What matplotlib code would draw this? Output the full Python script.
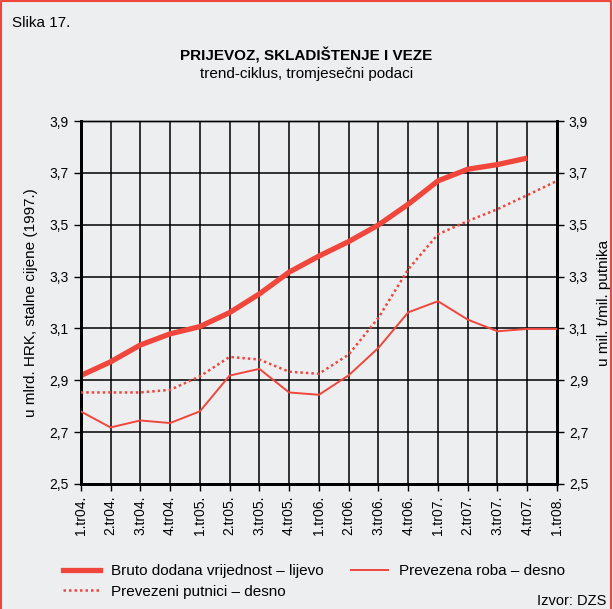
import numpy as np
import matplotlib
matplotlib.use('Agg')
import matplotlib.pyplot as plt
from matplotlib.lines import Line2D

plt.rcParams['font.family'] = ['Liberation Sans', 'DejaVu Sans']

quarters = ['1.tr04.', '2.tr04.', '3.tr04.', '4.tr04.', '1.tr05.', '2.tr05.', '3.tr05.', '4.tr05.',
            '1.tr06.', '2.tr06.', '3.tr06.', '4.tr06.', '1.tr07.', '2.tr07.', '3.tr07.', '4.tr07.', '1.tr08.']
bruto = [2.918, 2.971, 3.036, 3.079, 3.107, 3.161, 3.233, 3.317, 3.379, 3.435, 3.499, 3.579,
         3.669, 3.714, 3.732, 3.757]
putnici = [2.853, 2.853, 2.853, 2.863, 2.915, 2.990, 2.980, 2.933, 2.925, 2.999, 3.141, 3.328,
           3.463, 3.514, 3.560, 3.614, 3.669]
roba = [2.780, 2.718, 2.745, 2.735, 2.780, 2.918, 2.944, 2.853, 2.844, 2.919, 3.025, 3.162,
        3.205, 3.134, 3.089, 3.098, 3.098]
yticks = [2.5, 2.7, 2.9, 3.1, 3.3, 3.5, 3.7, 3.9]

red = '#f0463c'
bg = '#edeef0'

fig = plt.figure(figsize=(6.13, 6.09), dpi=100, facecolor=bg)
ax = fig.add_axes([0.1317, 0.2053, 0.777, 0.596])
ax.set_facecolor(bg)
ax2 = ax.twinx()

x = np.arange(len(quarters))
ax.plot(x[:len(bruto)], bruto, color=red, lw=3.8, solid_capstyle='butt', zorder=5)
ax2.plot(x, putnici, color=red, lw=1.8, linestyle=(0, (1, 1.2)), zorder=5)
ax2.plot(x, roba, color=red, lw=1.4, zorder=5)

for a in (ax, ax2):
    a.set_ylim(2.5, 3.9)
    a.set_yticks(yticks)
    a.set_yticklabels([f'{v:.1f}'.replace('.', ',') for v in yticks], fontsize=10)
    a.tick_params(axis='y', length=5, width=1, direction='out')
ax.set_xlim(0, len(quarters) - 1)
ax.set_xticks(x)
ax.set_xticklabels(quarters, rotation=90, fontsize=10)
ax.tick_params(axis='x', length=5, width=1, direction='out')

ax.grid(True, color='black', lw=1.1)
ax.set_axisbelow(True)
for s in ('left', 'bottom', 'right'):
    ax.spines[s].set_linewidth(2)
    ax2.spines[s].set_linewidth(2)
ax.spines['top'].set_linewidth(1)
ax2.spines['top'].set_linewidth(1)

ax.set_ylabel('u mlrd. HRK, stalne cijene (1997.)', fontsize=11, labelpad=8)
ax2.set_ylabel('u mil. t/mil. putnika', fontsize=11, labelpad=6)

fig.text(0.02, 0.962, 'Slika 17.', fontsize=11, va='center')
fig.text(0.5, 0.909, 'PRIJEVOZ, SKLADIŠTENJE I VEZE', fontsize=11, fontweight='bold',
         ha='center', va='center')
fig.text(0.5, 0.879, 'trend-ciklus, tromjesečni podaci', fontsize=11, ha='center', va='center')

handles = [Line2D([], [], color=red, lw=3.8),
           Line2D([], [], color=red, lw=1.8, linestyle=(0, (1, 1.2))),
           Line2D([], [], color=red, lw=1.4)]
labels = ['Bruto dodana vrijednost – lijevo', 'Prevezeni putnici – desno', 'Prevezena roba – desno']
fig.legend(handles, labels, ncol=2, loc='upper left', bbox_to_anchor=(0.093, 0.084),
           frameon=False, fontsize=11, handlelength=2.4, handletextpad=0.75,
           columnspacing=1.8, labelspacing=0.45, borderaxespad=0)
fig.text(0.99, 0.013, 'Izvor: DZS', fontsize=10.5, va='center', ha='right')

# red frame
fig.add_artist(Line2D([0.002, 0.002, 0.997, 0.997], [0, 0.998, 0.998, 0],
                      transform=fig.transFigure, color=red, lw=1.5))

plt.savefig('out.png', dpi=100, facecolor=bg)
